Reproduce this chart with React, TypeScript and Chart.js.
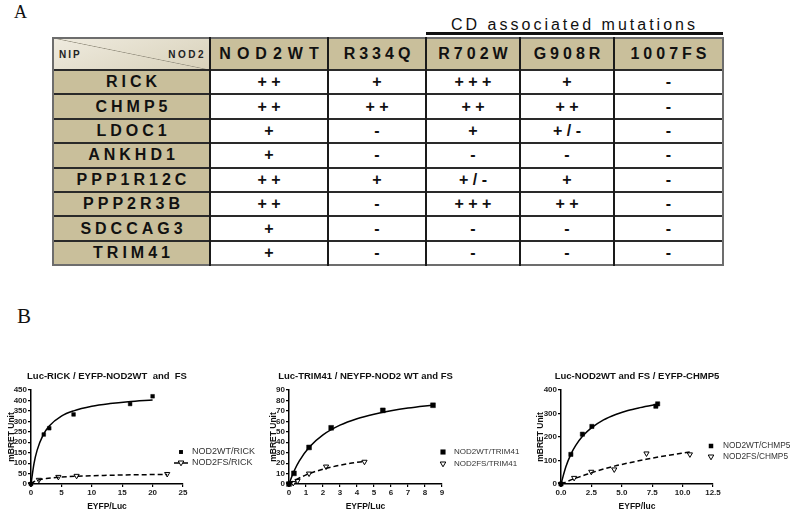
import React, { useEffect, useRef } from "react";
import { Chart, registerables } from "chart.js";
Chart.register(...registerables);

const FONT = '"Liberation Sans", Arial, Helvetica, sans-serif';

// ---------------- Panel A data ----------------
const nipNames = ["RICK", "CHMP5", "LDOC1", "ANKHD1", "PPP1R12C", "PPP2R3B", "SDCCAG3", "TRIM41"];
const mutantNames = ["NOD2WT", "R334Q", "R702W", "G908R", "1007FS"];
const scoreNOD2WT = ["+ +", "+ +", "+", "+", "+ +", "+ +", "+", "+"];
const scoreR334Q = ["+", "+ +", "-", "-", "+", "-", "-", "-"];
const scoreR702W = ["+ + +", "+ +", "+", "-", "+ / -", "+ + +", "-", "-"];
const scoreG908R = ["+", "+ +", "+ / -", "-", "+", "+ +", "-", "-"];
const score1007FS = ["-", "-", "-", "-", "-", "-", "-", "-"];
const cornerLeft = "NIP";
const cornerRight = "NOD2";
const mutationGroupLabel = "CD associated mutations";

// ---------------- Panel B data ----------------
// Chart 1: Luc-RICK
const rickWtX = [0, 2.1, 3.0, 7.0, 16.3, 20.0];
const rickWtY = [0, 237, 267, 333, 383, 420];
const rickFsX = [0, 1.3, 4.5, 7.5, 22.4];
const rickFsY = [0, 20, 34, 39, 48];
const rickWtFitX = [0, 0.5, 1, 2, 3, 5, 7, 10, 13, 16, 20];
const rickWtFitY = [0, 99, 161, 235, 278, 325, 350, 372, 385, 394, 402];
const rickFsFitX = [0, 0.5, 1.2, 2.5, 4.5, 7.5, 12, 17, 22.4];
const rickFsFitY = [0, 11, 19, 26, 32, 37, 41, 44, 46];

// Chart 2: Luc-TRIM41
const trimWtX = [0, 0.29, 1.18, 2.48, 5.52, 8.47];
const trimWtY = [0, 10.2, 35, 53.8, 70.5, 75.4];
const trimFsX = [0, 0.25, 0.5, 1.18, 2.18, 4.44];
const trimFsY = [0, 1, 3, 10, 16.7, 21.3];
const trimWtFitX = [0, 0.3, 0.6, 1.2, 2, 3, 4, 5, 6, 7, 8.5];
const trimWtFitY = [0, 12.4, 21.9, 35.4, 47, 56.3, 62.5, 66.8, 70.1, 72.7, 75.6];
const trimFsFitX = [0, 0.5, 1, 1.5, 2.2, 3, 3.7, 4.4];
const trimFsFitY = [0, 4.8, 8.7, 11.7, 15, 18, 20, 21.6];

// Chart 3: EYFP-CHMP5
const chmpWtX = [0, 0.81, 1.76, 2.54, 7.8, 7.95];
const chmpWtY = [0, 126, 212, 245, 331, 341];
const chmpFsX = [0, 1.08, 2.49, 4.38, 7.03, 10.6];
const chmpFsY = [0, 26, 52, 62, 130, 126];
const chmpWtFitX = [0, 0.4, 0.8, 1.2, 1.8, 2.5, 3.5, 4.5, 5.5, 6.5, 8];
const chmpWtFitY = [0, 73, 125, 163, 205, 239, 273, 296, 313, 325, 340];
const chmpFsFitX = [0, 1, 2, 3, 4.4, 5.5, 7, 8.5, 10.6];
const chmpFsFitY = [0, 21, 39, 56, 76, 89, 105, 119, 136];

const chartTitles = [
  "Luc-RICK / EYFP-NOD2WT  and  FS",
  "Luc-TRIM41 / NEYFP-NOD2 WT and FS",
  "Luc-NOD2WT and FS / EYFP-CHMP5",
];
const xTitles = ["EYFP/Luc", "EYFP/Luc", "EYFP/luc"];
const yTitle = "mBRET Unit";
const legendRick = ["NOD2WT/RICK", "NOD2FS/RICK"];
const legendTrim = ["NOD2WT/TRIM41", "NOD2FS/TRIM41"];
const legendChmp = ["NOD2WT/CHMP5", "NOD2FS/CHMP5"];

const pts = (xs: number[], ys: number[]) => xs.map((x, i) => ({ x, y: ys[i] }));

type Spec = {
  left: number; top: number; w: number; h: number;
  area: { l: number; t: number; r: number; b: number };
  title: string; xTitle: string;
  xMax: number; xStep: number; xDec: number; yMax: number; yStep: number;
  wt: { x: number; y: number }[]; fs: { x: number; y: number }[];
  wtFit: { x: number; y: number }[]; fsFit: { x: number; y: number }[];
  legend: string[]; legMarkX: number; legTextX: number; legY: number[]; legFsLine: boolean; legFont: number;
  sq: number; yTitleX: number; titleY: number; xTitleY: number;
};

const specs: Spec[] = [
  {
    left: 0, top: 355, w: 265, h: 163,
    area: { l: 31, t: 35, r: 183, b: 129 },
    title: chartTitles[0], xTitle: xTitles[0],
    xMax: 25, xStep: 5, xDec: 0, yMax: 450, yStep: 50,
    wt: pts(rickWtX, rickWtY), fs: pts(rickFsX, rickFsY),
    wtFit: pts(rickWtFitX, rickWtFitY), fsFit: pts(rickFsFitX, rickFsFitY),
    legend: legendRick, legMarkX: 181, legTextX: 192, legY: [97, 108], legFsLine: true, legFont: 9,
    sq: 2.6, yTitleX: 12, titleY: 21, xTitleY: 152,
  },
  {
    left: 265, top: 355, w: 265, h: 163,
    area: { l: 24, t: 35, r: 177, b: 129 },
    title: chartTitles[1], xTitle: xTitles[1],
    xMax: 9, xStep: 1, xDec: 0, yMax: 90, yStep: 10,
    wt: pts(trimWtX, trimWtY), fs: pts(trimFsX, trimFsY),
    wtFit: pts(trimWtFitX, trimWtFitY), fsFit: pts(trimFsFitX, trimFsFitY),
    legend: legendTrim, legMarkX: 178, legTextX: 189, legY: [97, 109], legFsLine: false, legFont: 8,
    sq: 3.4, yTitleX: 9, titleY: 21, xTitleY: 152,
  },
  {
    left: 530, top: 355, w: 262, h: 163,
    area: { l: 31, t: 35, r: 183, b: 129 },
    title: chartTitles[2], xTitle: xTitles[2],
    xMax: 12.5, xStep: 2.5, xDec: 1, yMax: 400, yStep: 100,
    wt: pts(chmpWtX, chmpWtY), fs: pts(chmpFsX, chmpFsY),
    wtFit: pts(chmpWtFitX, chmpWtFitY), fsFit: pts(chmpFsFitX, chmpFsFitY),
    legend: legendChmp, legMarkX: 181, legTextX: 193, legY: [91, 102], legFsLine: false, legFont: 8.3,
    sq: 3.0, yTitleX: 11, titleY: 21, xTitleY: 152,
  },
];

function BretChart({ spec }: { spec: Spec }) {
  const ref = useRef<HTMLCanvasElement>(null);
  useEffect(() => {
    const s = spec;
    const deco = {
      id: "deco",
      afterDraw(chart: any) {
        const ctx = chart.ctx as CanvasRenderingContext2D;
        const ca = chart.chartArea;
        const cx = (ca.left + ca.right) / 2;
        ctx.save();
        ctx.fillStyle = "#111";
        ctx.textAlign = "center";
        ctx.textBaseline = "middle";
        ctx.font = `bold 9.5px ${FONT}`;
        ctx.fillText(s.title, cx, s.titleY);
        ctx.font = `bold 8.5px ${FONT}`;
        ctx.fillText(s.xTitle, cx, s.xTitleY);
        ctx.save();
        ctx.translate(s.yTitleX, (ca.top + ca.bottom) / 2);
        ctx.rotate(-Math.PI / 2);
        ctx.fillText(yTitle, 0, 0);
        ctx.restore();
        // legend
        ctx.font = `${s.legFont}px ${FONT}`;
        ctx.textAlign = "left";
        ctx.fillStyle = "#333";
        ctx.fillText(s.legend[0], s.legTextX, s.legY[0]);
        ctx.fillText(s.legend[1], s.legTextX, s.legY[1]);
        const mx = s.legMarkX;
        ctx.fillStyle = "#000";
        const q = s.sq * 0.75;
        ctx.fillRect(mx - q, s.legY[0] - q, 2 * q, 2 * q);
        const y2 = s.legY[1];
        ctx.strokeStyle = "#000";
        ctx.lineWidth = 1;
        if (s.legFsLine) {
          ctx.lineWidth = 1.5;
          ctx.beginPath();
          ctx.moveTo(mx - 7, y2);
          ctx.lineTo(mx + 7, y2);
          ctx.stroke();
          ctx.lineWidth = 1;
        }
        ctx.beginPath();
        ctx.moveTo(mx - 2.8, y2 - 2);
        ctx.lineTo(mx + 2.8, y2 - 2);
        ctx.lineTo(mx, y2 + 2.8);
        ctx.closePath();
        ctx.fillStyle = "#fff";
        ctx.fill();
        ctx.stroke();
        ctx.restore();
      },
    };
    const tickFont = { family: FONT, size: 8, weight: "bold" as const };
    const chart = new Chart(ref.current as HTMLCanvasElement, {
      type: "scatter",
      data: {
        datasets: [
          {
            data: s.wtFit, showLine: true, pointRadius: 0, borderColor: "#000", borderWidth: 1.5,
            cubicInterpolationMode: "monotone", clip: false,
          } as any,
          {
            data: s.fsFit, showLine: true, pointRadius: 0, borderColor: "#000", borderWidth: 1.5,
            borderDash: [5, 3], cubicInterpolationMode: "monotone", clip: false,
          } as any,
          {
            data: s.wt, showLine: false, pointStyle: "rect", pointRadius: s.sq, backgroundColor: "#000",
            borderColor: "#000", borderWidth: 0.5, clip: false,
          } as any,
          {
            data: s.fs, showLine: false, pointStyle: "triangle", pointRotation: 180, pointRadius: 3,
            backgroundColor: "#fff", borderColor: "#000", borderWidth: 1, clip: false,
          } as any,
        ],
      },
      options: {
        responsive: false,
        animation: false,
        events: [],
        layout: {
          padding: { left: 0, top: s.area.t, right: s.w - s.area.r, bottom: s.h - s.area.b - 14 },
        },
        plugins: { legend: { display: false }, tooltip: { enabled: false }, title: { display: false } },
        scales: {
          x: {
            type: "linear", min: 0, max: s.xMax,
            ticks: {
              stepSize: s.xStep, autoSkip: false, maxRotation: 0, font: tickFont, color: "#222", padding: 1,
              callback: (v: any) => Number(v).toFixed(s.xDec),
            },
            grid: { drawOnChartArea: false, drawTicks: true, tickLength: 3, color: "#000", lineWidth: 1.2 },
            border: { display: true, color: "#000", width: 1.5 },
            afterFit: (sc: any) => { sc.height = 14; },
          },
          y: {
            type: "linear", min: 0, max: s.yMax,
            ticks: { stepSize: s.yStep, autoSkip: false, font: tickFont, color: "#222", padding: 1 },
            grid: { drawOnChartArea: false, drawTicks: true, tickLength: 3, color: "#000", lineWidth: 1.2 },
            border: { display: true, color: "#000", width: 1.5 },
            afterFit: (sc: any) => { sc.width = s.area.l; },
          },
        },
      } as any,
      plugins: [deco],
    });
    return () => chart.destroy();
  }, [spec]);
  return (
    <canvas
      ref={ref}
      width={spec.w}
      height={spec.h}
      style={{ position: "absolute", left: spec.left, top: spec.top, width: spec.w, height: spec.h }}
    />
  );
}

const colEdges = [53, 210, 328, 426, 520, 614, 723];
const headerTop = 38;
const headerH = 32;
const rowH = 24.4;

function Table() {
  const cols = [scoreNOD2WT, scoreR334Q, scoreR702W, scoreG908R, score1007FS];
  const tan = "#c9bf9b";
  const cells: any[] = [];
  const bottom = headerTop + headerH + rowH * nipNames.length;
  cells.push(
    <div key="corner" style={{
      position: "absolute", left: colEdges[0], top: headerTop, width: colEdges[1] - colEdges[0], height: headerH,
      background: "linear-gradient(to bottom left, transparent calc(50% - 0.7px), #9a9585 50%, transparent calc(50% + 0.7px)), linear-gradient(160deg, #efebdf, #d8d1ba)",
    }}>
      <span style={{ position: "absolute", left: 6, top: 11, font: `bold 10px ${FONT}`, letterSpacing: 2, color: "#222" }}>{cornerLeft}</span>
      <span style={{ position: "absolute", right: 4, top: 11, font: `bold 10px ${FONT}`, letterSpacing: 2.5, color: "#222" }}>{cornerRight}</span>
    </div>
  );
  mutantNames.forEach((m, j) => {
    cells.push(
      <div key={"h" + j} style={{
        position: "absolute", left: colEdges[j + 1], top: headerTop, width: colEdges[j + 2] - colEdges[j + 1], height: headerH,
        background: tan, display: "flex", alignItems: "center", justifyContent: "center",
        font: `bold 16px ${FONT}`, letterSpacing: j === 0 ? 6 : 4, color: "#111", paddingLeft: j === 0 ? 6 : 4, boxSizing: "border-box",
      }}>{m}</div>
    );
  });
  nipNames.forEach((n, i) => {
    const top = headerTop + headerH + i * rowH;
    cells.push(
      <div key={"r" + i} style={{
        position: "absolute", left: colEdges[0], top, width: colEdges[1] - colEdges[0], height: rowH,
        background: tan, display: "flex", alignItems: "center", justifyContent: "center",
        font: `bold 16px ${FONT}`, letterSpacing: 4, paddingLeft: 4, boxSizing: "border-box", color: "#111",
      }}>{n}</div>
    );
    cols.forEach((c, j) => {
      cells.push(
        <div key={"c" + i + "_" + j} style={{
          position: "absolute", left: colEdges[j + 1], top, width: colEdges[j + 2] - colEdges[j + 1], height: rowH,
          background: "#fff", display: "flex", alignItems: "center", justifyContent: "center",
          font: `bold 16px ${FONT}`, color: "#111",
        }}>{c[i]}</div>
      );
    });
  });
  const hy = [headerTop, headerTop + headerH];
  for (let i = 1; i <= nipNames.length; i++) hy.push(headerTop + headerH + i * rowH);
  hy.forEach((y, k) => {
    const outer = k === 0 || k === hy.length - 1;
    cells.push(<div key={"hl" + k} style={{
      position: "absolute", left: colEdges[0] - 1, top: y - 1, width: colEdges[6] - colEdges[0] + 2, height: 2,
      background: outer ? "#6d6d6d" : "#2a2a2a",
    }} />);
  });
  colEdges.forEach((x, k) => {
    const outer = k === 0 || k === colEdges.length - 1;
    cells.push(<div key={"vl" + k} style={{
      position: "absolute", left: x - 1, top: headerTop - 1, width: 2, height: bottom - headerTop + 2,
      background: outer ? "#6d6d6d" : "#1a1a1a",
    }} />);
  });
  return <>{cells}</>;
}

export default function App() {
  return (
    <div style={{ position: "absolute", left: 0, top: 0, width: 792, height: 518, background: "#fff", overflow: "hidden" }}>
      <div style={{ position: "absolute", left: 14, top: 2, font: `18px "Liberation Serif", "DejaVu Serif", serif`, color: "#111" }}>A</div>
      <div style={{ position: "absolute", left: 17, top: 304, font: `21px "Liberation Serif", "DejaVu Serif", serif`, color: "#111" }}>B</div>
      <div style={{
        position: "absolute", left: 426, top: 16, width: 297, textAlign: "center",
        font: `16px ${FONT}`, letterSpacing: 3, color: "#111",
      }}>{mutationGroupLabel}</div>
      <div style={{ position: "absolute", left: 426, top: 32, width: 297, height: 2.5, background: "#111" }} />
      <Table />
      {specs.map((s, i) => <BretChart key={i} spec={s} />)}
    </div>
  );
}
